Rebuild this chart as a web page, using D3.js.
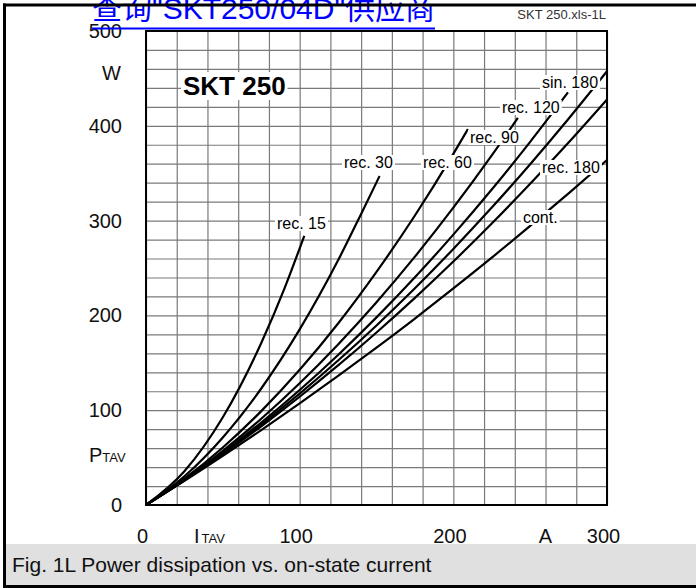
<!DOCTYPE html>
<html>
<head>
<meta charset="utf-8">
<script src="https://cdn.jsdelivr.net/npm/d3@7"></script>
<style>
  body { margin: 0; background: #fff; }
  svg { display: block; font-family: "Liberation Sans", Arial, "Noto Sans CJK SC", sans-serif; }
</style>
</head>
<body>
<svg id="chart" width="696" height="588"></svg>
<script>
// tick labels
const xTicks = [0, 100, 200, 300];
const yTicks = [0, 100, 200, 300, 400, 500];

// curves: [I_TAV in A, P_TAV in W]
const contCurve = [[0, 0], [25, 25.4], [50, 51.8], [75, 79], [100, 107.1], [125, 136.1], [150, 166], [175, 196.7], [200, 228.4], [225, 260.9], [250, 294.4], [275, 328.7], [300, 363.9]];
const rec180Curve = [[0, 0], [25, 25.9], [50, 53.6], [75, 83], [100, 114.2], [125, 147.2], [150, 182], [175, 218.5], [200, 256.8], [225, 296.9], [250, 338.8], [275, 382.4], [300, 427.8]];
const sin180Curve = [[0, 0], [25, 26.1], [50, 54.4], [75, 84.9], [100, 117.5], [125, 152.4], [150, 189.4], [175, 228.6], [200, 270.1], [225, 313.7], [250, 359.5], [275, 407.5], [300, 457.6]];
const rec120Curve = [[0, 0], [25, 26.3], [50, 55.3], [75, 87], [100, 121.3], [125, 158.3], [150, 197.9], [175, 240.2], [200, 285.2], [225, 332.8], [250, 383.1], [274.6, 435.2]];
const rec90Curve = [[0, 0], [25, 26.8], [50, 57.1], [75, 91], [100, 128.4], [125, 169.4], [150, 213.9], [175, 262], [200, 313.6], [225, 368.8], [242, 408.3]];
const rec60Curve = [[0, 0], [25, 27.7], [50, 60.7], [75, 99], [100, 142.6], [125, 191.5], [150, 245.9], [175, 305.4], [200, 370.4], [209.5, 396.5]];
const rec30Curve = [[0, 0], [25, 30.3], [50, 71.3], [75, 122.9], [100, 185.2], [125, 258.1], [140, 307], [152, 347]];
const rec15Curve = [[0, 0], [25, 35.7], [50, 92.6], [75, 170.9], [90, 228], [103, 284]];

const curveNames = ['cont.', 'rec. 180', 'sin. 180', 'rec. 120', 'rec. 90', 'rec. 60', 'rec. 30', 'rec. 15'];
const curveData = [contCurve, rec180Curve, sin180Curve, rec120Curve, rec90Curve, rec60Curve, rec30Curve, rec15Curve];

// where each curve name sits (left end of text, baseline), in data units
const labelSpots = [[245.3, 297.5], [257.7, 350.2], [257.7, 439.9], [231.6, 413.5], [210.8, 381.9], [180.2, 355.5], [128.8, 355.5], [85.2, 291.1]];

const plotLeft = 146;
const plotRight = 607;
const plotTop = 31;
const plotBottom = 505;

const svg = d3.select('#chart');

const x = d3.scaleLinear().domain([0, 300]).range([plotLeft, plotRight]);
const y = d3.scaleLinear().domain([0, 500]).range([plotBottom, plotTop]);

// caption box
svg.append('rect')
   .attr('x', 5)
   .attr('y', 544)
   .attr('width', 691)
   .attr('height', 42)
   .attr('fill', '#e0e0e0');

svg.append('text')
   .attr('x', 12)
   .attr('y', 572)
   .attr('font-size', 21)
   .attr('fill', '#111')
   .text('Fig. 1L Power dissipation vs. on-state current');

// grid
const gridX = svg.append('g')
   .attr('transform', `translate(0,${plotBottom})`)
   .call(d3.axisBottom(x).tickValues(d3.range(0, 301, 20)).tickSize(-(plotBottom - plotTop)).tickFormat(''));
const gridY = svg.append('g')
   .attr('transform', `translate(${plotLeft},0)`)
   .call(d3.axisLeft(y).tickValues(d3.range(0, 501, 20)).tickSize(-(plotRight - plotLeft)).tickFormat(''));
[gridX, gridY].forEach(g => {
  g.select('.domain').remove();
  g.selectAll('line').attr('stroke', '#7a7a7a').attr('stroke-width', 1.2);
});

// curves
const line = d3.line()
   .x(d => x(d[0]))
   .y(d => y(d[1]))
   .curve(d3.curveMonotoneX);

svg.append('g')
   .selectAll('path')
   .data(curveData)
   .enter()
   .append('path')
   .attr('d', line)
   .attr('fill', 'none')
   .attr('stroke', '#000')
   .attr('stroke-width', 2.2);

// labels with white background
function boxedText(px, py, str, size, weight) {
  const g = svg.append('g');
  const bg = g.append('rect').attr('fill', '#fff');
  const t = g.append('text')
     .attr('x', px)
     .attr('y', py)
     .attr('font-size', size)
     .attr('font-weight', weight || 'normal')
     .attr('fill', '#000')
     .text(str);
  const b = t.node().getBBox();
  bg.attr('x', b.x - 2).attr('y', b.y + 1).attr('width', b.width + 4).attr('height', b.height - 2);
}

curveNames.forEach((name, i) => {
  boxedText(x(labelSpots[i][0]), y(labelSpots[i][1]), name, 16);
});

boxedText(183, 95, 'SKT 250', 26, 'bold');

// plot frame
svg.append('rect')
   .attr('x', plotLeft)
   .attr('y', plotTop)
   .attr('width', plotRight - plotLeft)
   .attr('height', plotBottom - plotTop)
   .attr('fill', 'none')
   .attr('stroke', '#000')
   .attr('stroke-width', 2);

// axis numbers
const axisY = svg.append('g')
   .attr('transform', `translate(${plotLeft},0)`)
   .call(d3.axisLeft(y).tickValues(yTicks).tickSize(0).tickPadding(24));
const axisX = svg.append('g')
   .attr('transform', `translate(0,${plotBottom})`)
   .call(d3.axisBottom(x).tickValues(xTicks).tickSize(0).tickPadding(24));
[axisX, axisY].forEach(g => {
  g.select('.domain').remove();
  g.attr('font-family', null).attr('font-size', 20);
  g.selectAll('text').attr('fill', '#111');
});
axisX.selectAll('text').attr('dx', -4);

// units and symbols
svg.append('text').attr('x', 121).attr('y', 80).attr('text-anchor', 'end').attr('font-size', 20).attr('fill', '#111').text('W');
svg.append('text').attr('x', 552).attr('y', 543).attr('text-anchor', 'end').attr('font-size', 20).attr('fill', '#111').text('A');

const pLabel = svg.append('text').attr('x', 89).attr('y', 462).attr('font-size', 20).attr('fill', '#111');
pLabel.append('tspan').text('P');
pLabel.append('tspan').attr('font-size', 13).text('TAV');

const iLabel = svg.append('text').attr('x', 194).attr('y', 543).attr('font-size', 20).attr('fill', '#111');
iLabel.append('tspan').text('I');
iLabel.append('tspan').attr('font-size', 13).attr('dx', 2).text('TAV');

svg.append('text')
   .attr('x', 606)
   .attr('y', 19)
   .attr('text-anchor', 'end')
   .attr('font-size', 13)
   .attr('fill', '#333')
   .text('SKT 250.xls-1L');

// page link header
svg.append('text')
   .attr('x', 92)
   .attr('y', 19)
   .attr('font-size', 30)
   .attr('fill', '#0000ff')
   .text('查询"SKT250/04D"供应商');
svg.append('line')
   .attr('x1', 92).attr('x2', 435)
   .attr('y1', 28.5).attr('y2', 28.5)
   .attr('stroke', '#0000ff')
   .attr('stroke-width', 2);

// outer frame
svg.append('line').attr('x1', 3).attr('x2', 696).attr('y1', 5).attr('y2', 5).attr('stroke', '#000').attr('stroke-width', 3);
svg.append('line').attr('x1', 4.5).attr('x2', 4.5).attr('y1', 3.5).attr('y2', 588).attr('stroke', '#000').attr('stroke-width', 3);
svg.append('line').attr('x1', 3).attr('x2', 696).attr('y1', 586.5).attr('y2', 586.5).attr('stroke', '#000').attr('stroke-width', 3);
</script>
</body>
</html>
